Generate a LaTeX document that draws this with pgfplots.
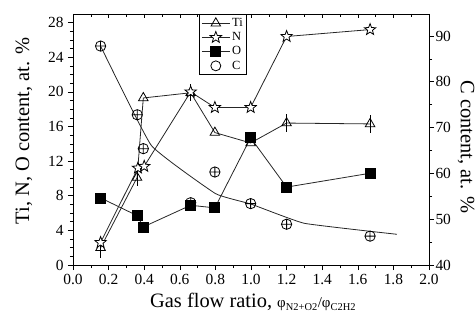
\documentclass[border=0pt]{standalone}
\usepackage{pgfplots}
\pgfplotsset{compat=1.18}
\usepackage{fontspec}
\setmainfont{Liberation Serif}

\pgfdeclareplotmark{ostar}{%
  \pgfpathmoveto{\pgfqpointpolar{90}{\pgfplotmarksize}}%
  \pgfpathlineto{\pgfqpointpolar{126}{0.42\pgfplotmarksize}}%
  \pgfpathlineto{\pgfqpointpolar{162}{\pgfplotmarksize}}%
  \pgfpathlineto{\pgfqpointpolar{198}{0.42\pgfplotmarksize}}%
  \pgfpathlineto{\pgfqpointpolar{234}{\pgfplotmarksize}}%
  \pgfpathlineto{\pgfqpointpolar{270}{0.42\pgfplotmarksize}}%
  \pgfpathlineto{\pgfqpointpolar{306}{\pgfplotmarksize}}%
  \pgfpathlineto{\pgfqpointpolar{342}{0.42\pgfplotmarksize}}%
  \pgfpathlineto{\pgfqpointpolar{18}{\pgfplotmarksize}}%
  \pgfpathlineto{\pgfqpointpolar{54}{0.42\pgfplotmarksize}}%
  \pgfpathclose
  \pgfusepathqfillstroke
}

\pgfplotsset{
  base/.style={
    scale only axis, width=356bp, height=251bp,
    xmin=0, xmax=2,
    /pgf/number format/assume math mode=true,
    tick label style={font=\fontsize{15.5}{16}\selectfont, black},
    major tick length=5bp, minor tick length=3bp,
    every tick/.style={black, line width=0.6pt},
    axis line style={black, line width=0.8pt},
    xtick={0,0.2,0.4,0.6,0.8,1.0,1.2,1.4,1.6,1.8,2.0},
    minor x tick num=1,
  },
  ser/.style={black!85, line width=0.8pt, mark options={solid, black, fill=white, line width=0.8pt}},
}

\begin{document}
\begin{tikzpicture}
% right axis (C)
\begin{axis}[base,
  ymin=40, ymax=94.8,
  axis y line*=right, axis x line=none,
  tick align=outside,
  ytick={40,50,60,70,80,90}, minor y tick num=1,
  yticklabel style={xshift=-2bp},
  ylabel={C content, at. \%},
  ylabel style={font=\fontsize{20.5}{21}\selectfont, at={(axis description cs:1.104,0.47)}, anchor=center, rotate=180},
]
\addplot[black!85, line width=0.8pt, smooth, tension=0.2] coordinates {
  (0.155,87.8)(0.44,66.1)(0.80,55.6)(1.0,53.3)(1.3,49.1)(1.82,46.7)};
\addplot[only marks, mark=oplus, mark size=5.2, mark options={black, fill=white, line width=0.8pt}] coordinates {
  (0.155,87.8)(0.361,72.8)(0.395,65.4)(0.661,53.6)(0.797,60.3)(0.998,53.4)(1.2,48.9)(1.669,46.3)};
\end{axis}
% top ticks
\begin{axis}[base,
  ymin=0, ymax=29,
  axis x line*=top, axis y line=none,
  tick align=inside, xticklabels={},
  major tick length=4bp, minor tick length=3bp,
]
\addplot[draw=none] coordinates {(0,0)};
\end{axis}
% main axis (Ti, N, O)
\begin{axis}[base,
  ymin=0, ymax=29,
  axis x line*=bottom, axis y line*=left,
  tick align=outside,
  ytick={0,4,8,12,16,20,24,28}, minor y tick num=3,
  xticklabel style={/pgf/number format/fixed, /pgf/number format/fixed zerofill, /pgf/number format/precision=1, yshift=-1bp},
  yticklabel style={xshift=-1bp},
  ylabel={Ti, N, O content, at. \%},
  ylabel style={font=\fontsize{20.5}{21}\selectfont, at={(axis description cs:-0.138,0.534)}, anchor=center},
  xlabel={Gas flow ratio, {\fontsize{15}{15}\selectfont φ\textsubscript{N2+O2}/φ\textsubscript{C2H2}}},
  xlabel style={font=\fontsize{20.5}{21}\selectfont, at={(axis description cs:0.506,-0.171)}, anchor=base},
  legend style={at={(rel axis cs:0.354,1)}, anchor=north west, draw=black, line width=0.8pt,
    font=\fontsize{12.5}{13}\selectfont, row sep=0.5bp, inner xsep=2bp, inner ysep=2bp, fill=white},
  legend cell align=left,
  legend image code/.code={\draw[mark repeat=2,mark phase=2,#1] plot coordinates {(0bp,0bp)(14bp,0bp)(28bp,0bp)};},
]
\addplot[ser, mark=triangle, mark size=5.5,
  error bars/.cd, y dir=both, y explicit, error mark=none,
  error bar style={black, line width=0.8pt}] coordinates {
  (0.155,2.0) +- (0,1.2)
  (0.36,10.1) +- (0,1.0)
  (0.395,19.3) +- (0,0)
  (0.661,19.9) +- (0,1.0)
  (0.797,15.3) +- (0,0)
  (0.998,14.1) +- (0,0)
  (1.2,16.4) +- (0,1.0)
  (1.669,16.3) +- (0,1.0)};
\addlegendentry{Ti}
\addplot[ser, mark=ostar, mark size=6] coordinates {
  (0.155,2.6)(0.365,11.2)(0.40,11.4)(0.661,20.0)(0.797,18.2)(0.998,18.2)(1.2,26.4)(1.669,27.2)};
\addlegendentry{N}
\addplot[ser, mark=square*, mark size=5, mark options={solid, black, fill=black}] coordinates {
  (0.155,7.75)(0.361,5.7)(0.395,4.4)(0.661,6.9)(0.797,6.6)(0.998,14.7)(1.2,9.0)(1.669,10.6)};
\addlegendentry{O}
\addlegendimage{legend image code/.code={\draw[black, line width=0.8pt] (14bp,0bp) circle (5bp);}}
\addlegendentry{C}
\coordinate (bl) at (rel axis cs:0,0);
\coordinate (tr) at (rel axis cs:1,1);
\end{axis}
\pgfresetboundingbox
\path[use as bounding box] ([xshift=-73bp,yshift=-55bp]bl) rectangle ([xshift=47bp,yshift=14bp]tr);
\end{tikzpicture}
\end{document}
